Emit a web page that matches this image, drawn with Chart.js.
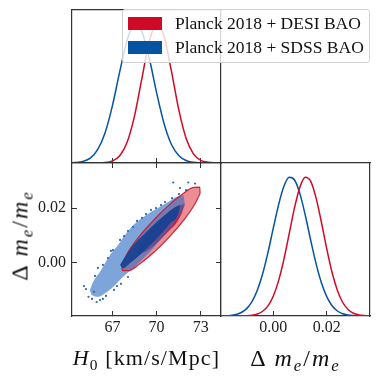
<!DOCTYPE html>
<html>
<head>
<meta charset="utf-8">
<script src="https://cdn.jsdelivr.net/npm/chart.js@4.4.1/dist/chart.umd.min.js"></script>
<style>
  body { margin: 0; background: #fff; }
  #fig { position: relative; width: 380px; height: 380px; font-family: "Liberation Serif", serif; color: #111; }
  #fig canvas { position: absolute; left: 0; top: 0; }
  .legend { position: absolute; left: 122px; top: 9px; width: 248px; height: 54px; box-sizing: border-box;
            border: 1px solid #d0d0d0; border-radius: 3px; background: rgba(255,255,255,0.8); }
  .legend .patch { position: absolute; left: 5px; width: 34px; height: 13px; }
  .legend .ltxt { position: absolute; left: 52px; font-size: 17.5px; line-height: 24px; white-space: nowrap; }
  .title { position: absolute; font-size: 22px; line-height: 24px; text-align: center; white-space: nowrap; }
  .title sub { font-size: 0.7em; vertical-align: baseline; position: relative; top: 0.3em; }
  .h0 { letter-spacing: 1.1px; }
  .dm { font-size: 24px; letter-spacing: 2px; }
</style>
</head>
<body>
<div id="fig">
  <canvas id="top-h0" width="380" height="380"></canvas>
  <canvas id="tri-2d" width="380" height="380"></canvas>
  <canvas id="side-dm" width="380" height="380"></canvas>
  <div class="legend">
    <div class="patch" style="top:7px;background:#cf0a26"></div>
    <div class="ltxt" style="top:1px">Planck 2018 + DESI BAO</div>
    <div class="patch" style="top:31px;background:#0553a1"></div>
    <div class="ltxt" style="top:25px">Planck 2018 + SDSS BAO</div>
  </div>
  <div class="title h0" style="left:72px;width:149px;top:346px"><i>H</i><sub>0</sub> [km/s/Mpc]</div>
  <div class="title dm" style="left:221px;width:149px;top:346px">Δ <i>m</i><sub><i>e</i></sub>/<i>m</i><sub><i>e</i></sub></div>
  <div class="title dm" style="left:-55px;width:152px;top:222px;transform:rotate(-90deg)">Δ <i>m</i><sub><i>e</i></sub>/<i>m</i><sub><i>e</i></sub></div>
</div>
<script>
// axes
const h0Range = [64.26, 74.37];
const dmRange2d = [-0.0193, 0.0364];
const dmRangeSide = [-0.0196, 0.0362];
const pdfRange = [0, 1.1];
const h0Ticks = [67, 70, 73];
const dmTicks = [0.0, 0.02];

// 1D marginals (peak normalised to 1)
const h0Grid = [64.0, 64.5, 65.0, 65.5, 66.0, 66.5, 67.0, 67.5, 68.0, 68.5, 69.0, 69.5, 70.0, 70.5, 71.0, 71.5, 72.0, 72.5, 73.0, 73.5, 74.0, 74.5];
const h0Desi = [0, 0, 0, 0, 0.001, 0.003, 0.015, 0.052, 0.149, 0.337, 0.607, 0.872, 0.999, 0.912, 0.664, 0.385, 0.178, 0.066, 0.019, 0.005, 0.001, 0];
const h0Sdss = [0.001, 0.003, 0.011, 0.035, 0.096, 0.216, 0.411, 0.657, 0.882, 0.997, 0.946, 0.755, 0.506, 0.286, 0.135, 0.054, 0.018, 0.005, 0.001, 0, 0, 0];

const dmGrid = [-0.020, -0.018, -0.016, -0.014, -0.012, -0.010, -0.008, -0.006, -0.004, -0.002, 0.000, 0.002, 0.004, 0.006, 0.008,
  0.010, 0.012, 0.014, 0.016, 0.018, 0.020, 0.022, 0.024, 0.026, 0.028, 0.030, 0.032, 0.034, 0.036, 0.038];
const dmDesi = [0, 0, 0, 0, 0.001, 0.002, 0.005, 0.014, 0.034, 0.073, 0.144, 0.256, 0.411, 0.597, 0.784,
  0.930, 0.998, 0.968, 0.849, 0.674, 0.483, 0.313, 0.184, 0.097, 0.047, 0.020, 0.008, 0.003, 0.001, 0];
const dmSdss = [0.001, 0.002, 0.004, 0.011, 0.025, 0.053, 0.103, 0.185, 0.304, 0.458, 0.633, 0.803, 0.935, 0.997, 0.976,
  0.876, 0.721, 0.544, 0.377, 0.239, 0.139, 0.074, 0.036, 0.016, 0.007, 0.003, 0.001, 0, 0, 0];

// 2D: DESI contours (upper / lower edge of each closed curve)
const desiOuterUpH0 = [67.65, 68.03, 68.76, 69.73, 70.78, 71.76, 72.51, 72.93, 72.95];
const desiOuterUpDm = [-0.0006, 0.0036, 0.0092, 0.0152, 0.0208, 0.0251, 0.0275, 0.0276, 0.0253];
const desiOuterLoH0 = [67.65, 67.67, 68.09, 68.84, 69.82, 70.87, 71.84, 72.56, 72.95];
const desiOuterLoDm = [-0.0006, -0.0028, -0.0028, -0.0004, 0.0039, 0.0095, 0.0156, 0.0211, 0.0253];
const desiInnerUpH0 = [68.69, 68.92, 69.95, 71.19, 71.91];
const desiInnerUpDm = [0.0031, 0.0070, 0.0141, 0.0201, 0.0216];
const desiInnerLoH0 = [68.69, 69.41, 70.65, 71.68, 71.91];
const desiInnerLoDm = [0.0031, 0.0046, 0.0106, 0.0177, 0.0216];

// 2D: SDSS sample cloud (outer envelope, dense core, stray samples)
const sdssOuterUpH0 = [65.48, 65.70, 66.16, 66.50, 66.84, 67.29, 67.86, 68.42, 68.99, 69.67, 70.23, 70.80, 71.37, 71.81, 71.93];
const sdssOuterUpDm = [-0.0098, -0.0068, -0.0032, -0.0001, 0.0029, 0.0059, 0.0102, 0.0138, 0.0163, 0.0187, 0.0205, 0.0223, 0.0241, 0.0247, 0.0211];
const sdssOuterLoH0 = [65.48, 65.59, 66.04, 66.50, 66.95, 67.40, 67.86, 68.53, 69.10, 69.67, 70.23, 70.80, 71.25, 71.70, 71.93];
const sdssOuterLoDm = [-0.0098, -0.0116, -0.0123, -0.0110, -0.0092, -0.0068, -0.0044, -0.0013, 0.0017, 0.0047, 0.0084, 0.0120, 0.0150, 0.0187, 0.0211];
const sdssCoreUpH0 = [67.52, 67.86, 68.53, 69.21, 69.89, 70.57, 71.25, 71.59];
const sdssCoreUpDm = [-0.0007, 0.0023, 0.0072, 0.0108, 0.0144, 0.0175, 0.0203, 0.0211];
const sdssCoreLoH0 = [67.52, 67.74, 68.19, 68.87, 69.55, 70.23, 70.91, 71.52, 71.59];
const sdssCoreLoDm = [-0.0007, -0.0019, -0.0001, 0.0029, 0.0065, 0.0102, 0.0144, 0.0187, 0.0211];
const sdssStrayH0 = [71.13, 72.15, 72.61, 71.59, 72.00, 65.21, 65.38, 65.93, 65.62, 65.07, 65.82, 66.36, 66.70, 67.04,
  67.52, 68.06, 68.67, 69.28, 69.96, 70.57, 71.05, 71.52, 66.16, 66.57, 67.11, 67.58, 68.06,
  66.02, 66.90, 67.79, 68.40, 69.01, 69.62, 70.30, 65.75, 66.36, 67.31];
const sdssStrayDm = [0.0293, 0.0293, 0.0289, 0.0273, 0.0265, -0.0095, -0.0123, -0.0142, -0.0131, -0.0084, -0.0047, -0.0007, 0.0018, 0.0047,
  0.0084, 0.0116, 0.0153, 0.0178, 0.0200, 0.0222, 0.0236, 0.0251, -0.0135, -0.0120, -0.0098, -0.0076, -0.0051,
  -0.0018, 0.0044, 0.0098, 0.0131, 0.0164, 0.0193, 0.0211, -0.0105, -0.0131, -0.0084];

const red = "#cf0a26";
const blue = "#0553a1";
const frame = "#333333";
const tickFont = { family: "Liberation Serif", size: 16 };

function pts(xs, ys) {
  return xs.map((x, i) => ({ x: x, y: ys[i] }));
}

// axis with inward ticks; its box size is forced so the layout padding fixes the panel
function makeAxis(position, range, tickValues, labelFmt, size) {
  const horizontal = position === "top" || position === "bottom";
  return {
    type: "linear",
    axis: horizontal ? "x" : "y",
    position: position,
    min: range[0],
    max: range[1],
    afterFit: (s) => {
      if (horizontal) s.height = size || 0;
      else s.width = size || 0;
    },
    afterBuildTicks: (s) => {
      s.ticks = tickValues.map((v) => ({ value: v }));
    },
    border: { display: true, color: frame, width: 1.2 },
    grid: {
      display: tickValues.length > 0,
      drawOnChartArea: false,
      drawTicks: true,
      tickLength: -5,
      color: frame,
      lineWidth: 1,
    },
    ticks: {
      display: !!labelFmt,
      autoSkip: false,
      maxRotation: 0,
      padding: horizontal ? 7 : 11,
      font: tickFont,
      color: "#222",
      callback: (v) => (labelFmt ? labelFmt(v) : ""),
    },
  };
}

function curve(xs, ys, color) {
  return {
    data: pts(xs, ys),
    borderColor: color,
    borderWidth: 1.5,
    pointRadius: 0,
    cubicInterpolationMode: "monotone",
    fill: false,
  };
}

function edge(xs, ys, opts) {
  return Object.assign(
    {
      data: pts(xs, ys),
      borderColor: "rgba(0,0,0,0)",
      borderWidth: 0,
      pointRadius: 0,
      cubicInterpolationMode: "monotone",
      fill: false,
    },
    opts || {}
  );
}

function baseOptions(padding, scales) {
  return {
    responsive: false,
    devicePixelRatio: 1,
    animation: false,
    events: [],
    layout: { padding: padding },
    plugins: { legend: { display: false }, tooltip: { enabled: false } },
    scales: scales,
  };
}

const fmtH0 = (v) => String(v);
const fmtDm = (v) => v.toFixed(2);

// Panel H0 marginal
new Chart(document.getElementById("top-h0"), {
  type: "line",
  data: { datasets: [curve(h0Grid, h0Desi, red), curve(h0Grid, h0Sdss, blue)] },
  options: baseOptions({ left: 72, top: 10, right: 159, bottom: 217 }, {
    x: makeAxis("bottom", h0Range, h0Ticks, null),
    x2: makeAxis("top", h0Range, [], null),
    y: makeAxis("left", pdfRange, [], null),
    y2: makeAxis("right", pdfRange, [], null),
  }),
});

// Panel 2D (first dataset of the list ends up at the bottom)
const datasets2d = [
  edge(desiOuterUpH0, desiOuterUpDm, { fill: 1, backgroundColor: "rgba(220,45,62,0.55)" }),
  edge(desiOuterLoH0, desiOuterLoDm),
  edge(desiInnerUpH0, desiInnerUpDm, { fill: 3, backgroundColor: "rgba(200,12,36,0.85)" }),
  edge(desiInnerLoH0, desiInnerLoDm),
  edge(sdssOuterUpH0, sdssOuterUpDm, { fill: 5, backgroundColor: "rgba(45,110,195,0.62)" }),
  edge(sdssOuterLoH0, sdssOuterLoDm),
  edge(desiOuterUpH0, desiOuterUpDm, { borderColor: "rgba(205,20,40,0.9)", borderWidth: 1.2 }),
  edge(desiOuterLoH0, desiOuterLoDm, { borderColor: "rgba(205,20,40,0.9)", borderWidth: 1.2 }),
  edge(sdssCoreUpH0, sdssCoreUpDm, { fill: 9, backgroundColor: "rgba(22,66,146,0.92)" }),
  edge(sdssCoreLoH0, sdssCoreLoDm),
  {
    data: pts(sdssStrayH0, sdssStrayDm),
    showLine: false,
    pointRadius: 1.1,
    pointBorderWidth: 0,
    pointBackgroundColor: "#2f63ad",
  },
];
datasets2d.forEach((d, i) => (d.order = 100 - i));

new Chart(document.getElementById("tri-2d"), {
  type: "line",
  data: { datasets: datasets2d },
  options: baseOptions({ left: 12, top: 163, right: 159, bottom: 24 }, {
    x: makeAxis("bottom", h0Range, h0Ticks, fmtH0, 40),
    x2: makeAxis("top", h0Range, h0Ticks, null),
    y: makeAxis("left", dmRange2d, dmTicks, fmtDm, 60),
    y2: makeAxis("right", dmRange2d, dmTicks, null),
  }),
});

// Panel dm marginal
new Chart(document.getElementById("side-dm"), {
  type: "line",
  data: { datasets: [curve(dmGrid, dmDesi, red), curve(dmGrid, dmSdss, blue)] },
  options: baseOptions({ left: 221, top: 163, right: 10, bottom: 24 }, {
    x: makeAxis("bottom", dmRangeSide, dmTicks, fmtDm, 40),
    x2: makeAxis("top", dmRangeSide, [], null),
    y: makeAxis("left", pdfRange, [], null),
    y2: makeAxis("right", pdfRange, [], null),
  }),
});
</script>
</body>
</html>
